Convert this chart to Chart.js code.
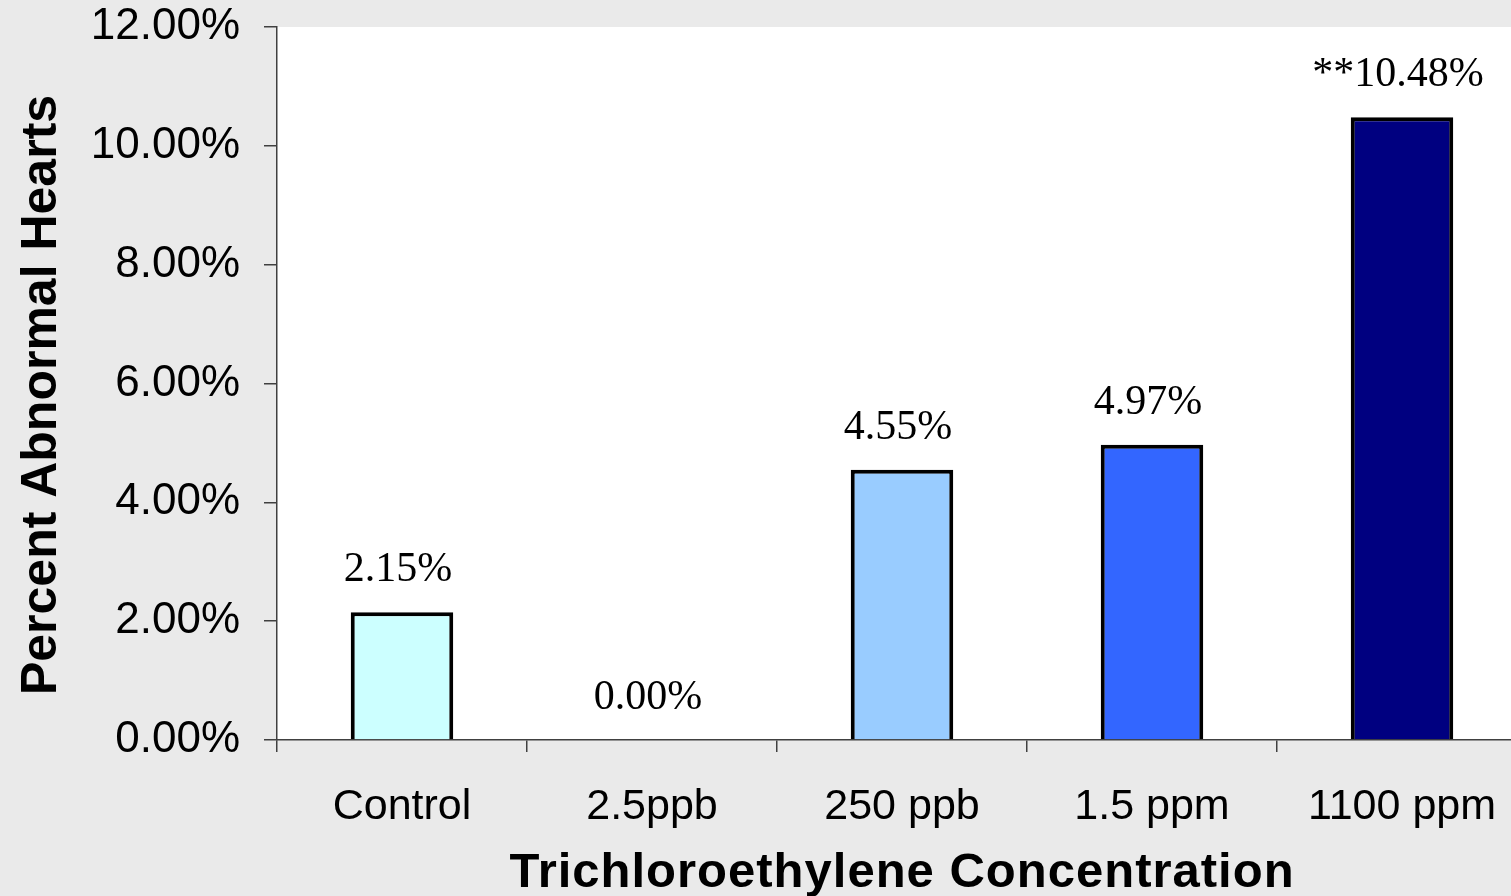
<!DOCTYPE html>
<html>
<head>
<meta charset="utf-8">
<script src="https://cdn.jsdelivr.net/npm/chart.js@4/dist/chart.umd.min.js"></script>
<style>
  html, body { margin:0; padding:0; background:#eaeaea; overflow:hidden; }
  #wrap { width:1530px; height:896px; }
</style>
</head>
<body>
<div id="wrap"><canvas id="chart" width="1530" height="896"></canvas></div>
<script>
// Percent abnormal hearts by TCE concentration
const categories = ['Control', '2.5ppb', '250 ppb', '1.5 ppm', '1100 ppm'];
const values = [2.15, 0.00, 4.55, 4.97, 10.48];
const marks = ['', '', '', '', '**'];
const barColors = ['#ccffff', 'rgba(0,0,0,0)', '#99ccff', '#3366ff', '#000080'];
const yTicks = [0, 2, 4, 6, 8, 10, 12];

const AXIS = '#404040';

// white plot area + value labels + axis titles
const decor = {
  id: 'decor',
  beforeDraw(chart) {
    const { ctx, chartArea: a } = chart;
    ctx.save();
    ctx.fillStyle = '#ffffff';
    ctx.fillRect(a.left, a.top, a.right - a.left, a.bottom - a.top);
    ctx.restore();
  },
  afterDatasetsDraw(chart) {
    const { ctx } = chart;
    const meta = chart.getDatasetMeta(0);
    ctx.save();
    ctx.font = '42px "Liberation Serif", "Times New Roman", serif';
    ctx.fillStyle = '#000';
    ctx.textAlign = 'center';
    ctx.textBaseline = 'alphabetic';
    meta.data.forEach((bar, i) => {
      const txt = marks[i] + values[i].toFixed(2) + '%';
      ctx.fillText(txt, bar.x - 4, bar.y - 31);
    });
    ctx.restore();
  },
  afterDraw(chart) {
    const { ctx, chartArea: a } = chart;
    ctx.save();
    ctx.fillStyle = '#000';
    ctx.font = 'bold 49px "Liberation Sans", Arial, sans-serif';
    ctx.textAlign = 'center';
    ctx.textBaseline = 'alphabetic';
    if ('letterSpacing' in ctx) ctx.letterSpacing = '1px';
    ctx.fillText('Trichloroethylene Concentration', (a.left + a.right) / 2, 887);
    ctx.letterSpacing = '0px';
    ctx.translate(56, 395);
    ctx.rotate(-Math.PI / 2);
    ctx.font = 'bold 50px "Liberation Sans", Arial, sans-serif';
    ctx.fillText('Percent Abnormal Hearts', 0, 0);
    ctx.restore();
  }
};

new Chart(document.getElementById('chart'), {
  type: 'bar',
  data: {
    labels: categories,
    datasets: [{
      data: values,
      backgroundColor: barColors,
      borderColor: '#000',
      borderWidth: 4,
      borderSkipped: 'start',
      barPercentage: 0.41,
      categoryPercentage: 1
    }]
  },
  options: {
    responsive: false,
    animation: false,
    layout: { padding: { top: 27, right: 3, left: 0, bottom: 0 } },
    plugins: { legend: { display: false }, tooltip: { enabled: false } },
    scales: {
      x: {
        grid: { display: true, drawOnChartArea: false, offset: true, tickLength: 12, color: AXIS, lineWidth: 1.5 },
        border: { display: true, color: AXIS, width: 1.5 },
        ticks: { color: '#000', padding: 29, font: { family: '"Liberation Sans", Arial, sans-serif', size: 43 }, maxRotation: 0 },
        afterFit: (s) => { s.height = 156; s.paddingLeft = 0; s.paddingRight = 0; }
      },
      y: {
        min: 0,
        max: 12,
        afterBuildTicks: (s) => { s.ticks = yTicks.map(v => ({ value: v })); },
        grid: { display: true, drawOnChartArea: false, tickLength: 13, color: AXIS, lineWidth: 1.5 },
        border: { display: true, color: AXIS, width: 1.5 },
        ticks: {
          color: '#000', padding: 24,
          font: { family: '"Liberation Sans", Arial, sans-serif', size: 44 },
          callback: (v) => Number(v).toFixed(2) + '%'
        },
        afterFit: (s) => { s.width = 277; s.paddingTop = 0; s.paddingBottom = 0; }
      }
    }
  },
  plugins: [decor]
});
</script>
</body>
</html>
